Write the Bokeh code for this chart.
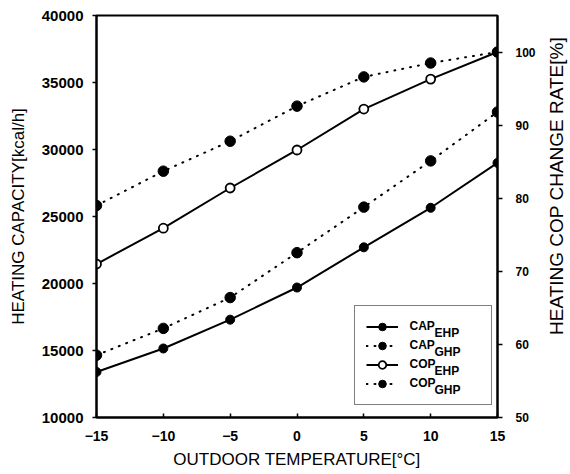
import math
from bokeh.plotting import figure
from bokeh.layouts import row
from bokeh.models import (Range1d, LinearAxis, Legend, LegendItem, Label,
                          FixedTicker)
from bokeh.core.properties import value
from bokeh.embed import file_html
from bokeh.resources import INLINE

# ---- data ----
temps = [-15, -10, -5, 0, 5, 10, 15]
cap_ehp = [13400, 15150, 17300, 19700, 22700, 25650, 29000]
cap_ghp = [14650, 16650, 18950, 22300, 25700, 29150, 32800]
cop_ehp = [71.0, 75.9, 81.4, 86.6, 92.2, 96.3, 100.0]
cop_ghp = [79.0, 83.7, 87.8, 92.6, 96.6, 98.5, 100.0]

x_ticks = [-15, -10, -5, 0, 5, 10, 15]
cap_ticks = [10000, 15000, 20000, 25000, 30000, 35000, 40000]
cop_ticks = [50, 60, 70, 80, 90, 100]

legend_names = ["CAP", "CAP", "COP", "COP"]
legend_subs = ["EHP", "GHP", "EHP", "GHP"]

x_title = "OUTDOOR TEMPERATURE[°C]"
y_title = "HEATING CAPACITY[kcal/h]"
y2_title = "HEATING COP CHANGE RATE[%]"

FONT = "Liberation Sans"
INK = "black"

W, H = 542, 474          # main chart
SW = 28                  # strip on the right holding the right-axis title
BL, BR, BT, BB = 96, 45, 15, 57

p = figure(width=W, height=H, output_backend="svg", toolbar_location=None,
           x_range=Range1d(-15, 15), y_range=Range1d(10000, 40000),
           min_border_left=BL, min_border_right=BR, min_border_top=BT,
           min_border_bottom=BB)
p.extra_y_ranges = {"cop": Range1d(50, 105)}
p.grid.visible = False
p.outline_line_color = INK
p.outline_line_width = 2
p.background_fill_color = "white"
p.border_fill_color = "white"


def style_axis(ax, size):
    ax.minor_tick_line_color = None
    ax.major_tick_line_color = INK
    ax.major_tick_line_width = 1.5
    ax.axis_line_color = INK
    ax.axis_line_width = 2
    ax.major_label_text_font = FONT
    ax.major_label_text_font_size = size
    ax.major_label_text_font_style = "bold"
    ax.major_label_text_color = INK
    ax.axis_label_text_font = FONT
    ax.axis_label_text_font_style = "normal"
    ax.axis_label_text_color = INK


xa = p.xaxis[0]
xa.ticker = FixedTicker(ticks=x_ticks)
style_axis(xa, "14px")
xa.major_tick_in = 4
xa.major_tick_out = 0
xa.major_label_standoff = 13
xa.axis_label = x_title
xa.axis_label_text_font_size = "17px"
xa.axis_label_standoff = 6

ya = p.yaxis[0]
ya.ticker = FixedTicker(ticks=cap_ticks)
style_axis(ya, "15px")
ya.major_tick_in = 0
ya.major_tick_out = 4
ya.major_label_standoff = 9
ya.axis_label = y_title
ya.axis_label_text_font_size = "17px"
ya.axis_label_standoff = 11

ya2 = LinearAxis(y_range_name="cop", ticker=FixedTicker(ticks=cop_ticks))
style_axis(ya2, "12px")
ya2.major_tick_in = 0
ya2.major_tick_out = 5
ya2.major_label_standoff = 13
p.add_layout(ya2, "right")

# series
DOT = "1 7"
l1 = p.line(temps, cap_ehp, line_color=INK, line_width=2)
s1 = p.scatter(temps, cap_ehp, marker="circle", size=9, fill_color=INK,
               line_color=INK)
l2 = p.line(temps, cap_ghp, line_color=INK, line_width=2, line_dash=DOT,
            line_cap="round")
s2 = p.scatter(temps, cap_ghp, marker="circle", size=10.5, fill_color=INK,
               line_color=INK)
l3 = p.line(temps, cop_ehp, line_color=INK, line_width=2, y_range_name="cop")
s3 = p.scatter(temps, cop_ehp, marker="circle", size=9, fill_color="white",
               line_color=INK, line_width=1.8, y_range_name="cop")
l4 = p.line(temps, cop_ghp, line_color=INK, line_width=2, line_dash=DOT,
            line_cap="round", y_range_name="cop")
s4 = p.scatter(temps, cop_ghp, marker="circle", size=10.5, fill_color=INK,
               line_color=INK, y_range_name="cop")

# legend (box + glyphs), labels with subscripts as separate text
LX, LY, PAD, GW, GH, STAND, LW = 258, 12, 11, 32, 19, 12, 70
items = [LegendItem(label=" ", renderers=[l, s])
         for l, s in [(l1, s1), (l2, s2), (l3, s3), (l4, s4)]]
leg = Legend(items=items, location=(LX, LY), padding=PAD, spacing=0,
             glyph_width=GW, glyph_height=GH, label_height=GH, label_width=LW,
             label_standoff=STAND, border_line_color=INK,
             border_line_width=1.5, background_fill_alpha=0.0,
             margin=0, label_text_font_size="12px")
p.add_layout(leg, "center")

n = len(legend_names)
tx = LX + PAD + GW + STAND
for i, (nm, sb) in enumerate(zip(legend_names, legend_subs)):
    row_c = LY + PAD + (n - 1 - i) * GH + GH / 2
    p.add_layout(Label(x=tx, y=row_c + 2.5, x_units="screen", y_units="screen",
                       text=nm, text_font=FONT, text_font_size="12px",
                       text_font_style="bold", text_baseline="middle",
                       text_align="left", text_color=INK, level="overlay"))
    p.add_layout(Label(x=tx + 25, y=row_c - 4.5, x_units="screen",
                       y_units="screen", text=sb, text_font=FONT,
                       text_font_size="12px", text_font_style="bold",
                       text_baseline="middle", text_align="left",
                       text_color=INK, level="overlay"))

# right strip: right-axis title reading bottom-to-top
p2 = figure(width=SW, height=H, output_backend="svg", toolbar_location=None,
            x_range=Range1d(0, SW), y_range=Range1d(0, H), min_border=0,
            x_axis_type=None, y_axis_type=None)
p2.grid.visible = False
p2.outline_line_color = None
p2.background_fill_color = "white"
p2.border_fill_color = "white"
p2.text(x=[SW / 2], y=[H - 201], text=[y2_title], angle=math.pi / 2,
        text_font=value(FONT), text_font_size="19px", text_color=INK,
        text_align="center", text_baseline="middle")

layout = row(p, p2, spacing=0)
open("out.html", "w").write(file_html(layout, INLINE))
